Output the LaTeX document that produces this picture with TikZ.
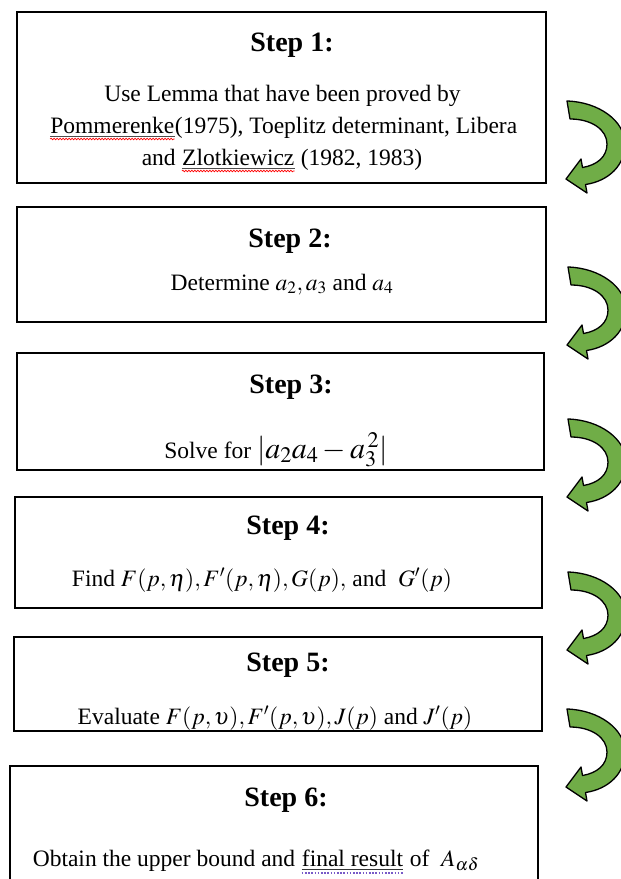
\documentclass[tikz,border=0pt]{standalone}
\usepackage{mathptmx}
\usepackage{fontspec}
\setmainfont{Liberation Serif}
\usetikzlibrary{decorations.pathmorphing}
\definecolor{arrowgreen}{RGB}{112,173,71}
\definecolor{checkviolet}{RGB}{120,90,200}
\tikzset{
  stepbox/.style={draw, line width=1.6pt, inner sep=0pt},
  steptitle/.style={font=\fontsize{28}{32}\selectfont\bfseries, anchor=base, inner sep=0pt},
  stepline/.style={font=\fontsize{23.5}{32}\selectfont, anchor=base, inner sep=0pt},
  turnarrow/.style={fill=arrowgreen, draw=black, line width=1.3pt, line join=round},
  uturn/.pic={
    \draw[turnarrow] (0,0) .. controls (32,1) and (58,20) .. (58,43)
      .. controls (58,64) and (42,80) .. (18.5,83.5) -- (20,92) -- (-1,78)
      -- (14,58) -- (15.5,66.5) .. controls (30,64) and (40,56) .. (40,43)
      .. controls (40,29) and (25,18) .. (3,18) -- cycle;
  }
}
\newcommand{\redwave}[1]{\tikz[baseline=(rw.base)]{\node[inner sep=0pt, anchor=base] (rw) {#1};
  \draw[black!70, line width=0.5pt] ([yshift=-3pt]rw.base west) -- ([yshift=-3pt]rw.base east);
  \draw[red, line width=0.7pt, decorate, decoration={snake, amplitude=0.8pt, segment length=3pt}]
    ([yshift=-6pt]rw.base west) -- ([yshift=-6pt]rw.base east);}}
\newcommand{\bluedots}[1]{\tikz[baseline=(bd.base)]{\node[inner sep=0pt, anchor=base] (bd) {#1};
  \draw[black!80, line width=0.6pt] ([yshift=-3pt]bd.base west) -- ([yshift=-3pt]bd.base east);
  \draw[checkviolet, line width=1.4pt, dash pattern=on 1.6pt off 1.6pt]
    ([yshift=-7pt]bd.base west) -- ([yshift=-7pt]bd.base east);}}
\begin{document}
\begin{tikzpicture}[x=1pt, y=-1pt]
  \useasboundingbox (0,0) rectangle (621,879);
  % the six boxes
  \node[stepbox, minimum width=529pt, minimum height=171pt] (box1) at (281.5,97.5) {};
  \node[stepbox, minimum width=529pt, minimum height=115pt] (box2) at (281.5,264.5) {};
  \node[stepbox, minimum width=527pt, minimum height=117pt] (box3) at (280.5,411.5) {};
  \node[stepbox, minimum width=527pt, minimum height=111pt] (box4) at (278.5,552.5) {};
  \node[stepbox, minimum width=528pt, minimum height=94pt] (box5) at (278,684) {};
  \node[stepbox, minimum width=528pt, minimum height=124pt] (box6) at (274,828) {};
  % texts
  \node[steptitle] (t1) at (292,51) {Step 1:};
  \node[stepline] (b1a) at (282.5,101) {Use Lemma that have been proved by};
  \node[stepline] (b1b) at (283.5,133) {\redwave{Pommerenke}(1975), Toeplitz determinant, Libera};
  \node[stepline] (b1c) at (282,165) {and \redwave{Zlotkiewicz} (1982, 1983)};
  \node[steptitle] (t2) at (290,247) {Step 2:};
  \node[stepline] (b2) at (282,290) {Determine $a_2, a_3$ and $a_4$};
  \node[steptitle] (t3) at (291,393) {Step 3:};
  \node[stepline] (b3) at (276,458) {Solve for {\fontsize{30}{32}\selectfont$\vert a_2a_4-a_3^{\,2}\vert$}};
  \node[steptitle] (t4) at (288,534) {Step 4:};
  \node[stepline] (b4) at (262,586) {Find $F(p,\eta), F'(p,\eta), G(p),$ and\ \ $G'(p)$};
  \node[steptitle] (t5) at (288,671) {Step 5:};
  \node[stepline] (b5) at (275,724) {Evaluate $F(p,\upsilon), F'(p,\upsilon), J(p)$ and $J'(p)$};
  \node[steptitle] (t6) at (286,806) {Step 6:};
  \node[stepline] (b6) at (256,866) {Obtain the upper bound and \bluedots{final result} of\ \ $A_{\alpha\delta}$};
  % turn arrows
  \pic at (567,101) {uturn};
  \pic at (568,267) {uturn};
  \pic at (568,419) {uturn};
  \pic at (568,572) {uturn};
  \pic at (567,709) {uturn};
\end{tikzpicture}
\end{document}
